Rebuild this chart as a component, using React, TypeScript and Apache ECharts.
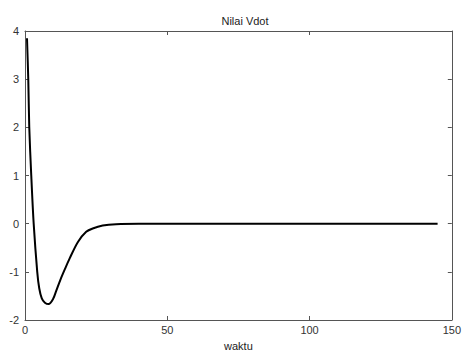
import React, { useEffect, useRef } from "react";
import * as echarts from "echarts";

// Time samples (waktu) and Vdot values
const waktu = [0.7, 1.15, 1.5, 2.2, 3.05, 4.3, 5.0, 5.9, 7.0, 8.3, 9.9, 11.0, 12.4, 13.9, 15.7, 18.6, 21.5, 23.8, 27.3, 32, 40, 60, 80, 100, 120, 145];
const vdot = [3.85, 3.0, 2.0, 1.0, 0.0, -1.0, -1.34, -1.55, -1.64, -1.67, -1.56, -1.39, -1.17, -0.96, -0.72, -0.38, -0.17, -0.1, -0.04, -0.01, 0, 0, 0, 0, 0, 0];
const xTicks = [0, 50, 100, 150];
const yTicks = [-2, -1, 0, 1, 2, 3, 4];

export default function App() {
  const ref = useRef<HTMLDivElement>(null);
  useEffect(() => {
    if (!ref.current) return;
    const chart = echarts.init(ref.current, null, { renderer: "svg" });
    const axisLine = { show: true, onZero: false, lineStyle: { color: "#555", width: 1 } };
    const axisTick = { show: true, inside: true, length: 4, lineStyle: { color: "#555" } };
    const font = "Liberation Sans";
    chart.setOption({
      animation: false,
      backgroundColor: "#fff",
      title: {
        text: "Nilai Vdot",
        left: 240,
        textAlign: "center",
        top: 10,
        textStyle: { fontFamily: font, fontSize: 11, fontWeight: "normal", color: "#222" },
      },
      grid: { left: 25, top: 31, right: 8, bottom: 34 },
      xAxis: [
        {
          type: "value",
          min: xTicks[0],
          max: xTicks[xTicks.length - 1],
          interval: 50,
          name: "waktu",
          nameLocation: "middle",
          nameGap: 20,
          nameTextStyle: { fontFamily: font, fontSize: 11, color: "#222" },
          axisLine,
          axisTick,
          axisLabel: { fontFamily: font, fontSize: 11, color: "#333", margin: 4 },
          splitLine: { show: false },
        },
        {
          type: "value",
          position: "top",
          min: xTicks[0],
          max: xTicks[xTicks.length - 1],
          interval: 50,
          axisLine,
          axisTick,
          axisLabel: { show: false },
          splitLine: { show: false },
        },
      ],
      yAxis: [
        {
          type: "value",
          min: yTicks[0],
          max: yTicks[yTicks.length - 1],
          interval: 1,
          axisLine,
          axisTick,
          axisLabel: { fontFamily: font, fontSize: 11, color: "#333", margin: 6 },
          splitLine: { show: false },
        },
        {
          type: "value",
          position: "right",
          min: yTicks[0],
          max: yTicks[yTicks.length - 1],
          interval: 1,
          axisLine,
          axisTick,
          axisLabel: { show: false },
          splitLine: { show: false },
        },
      ],
      series: [
        {
          type: "line",
          data: waktu.map((t, i) => [t, vdot[i]]),
          smooth: 0.3,
          showSymbol: false,
          lineStyle: { color: "#000", width: 2 },
        },
      ],
    });
    return () => chart.dispose();
  }, []);
  return <div ref={ref} style={{ width: 464, height: 356, position: "absolute", left: 0, top: 0 }} />;
}
